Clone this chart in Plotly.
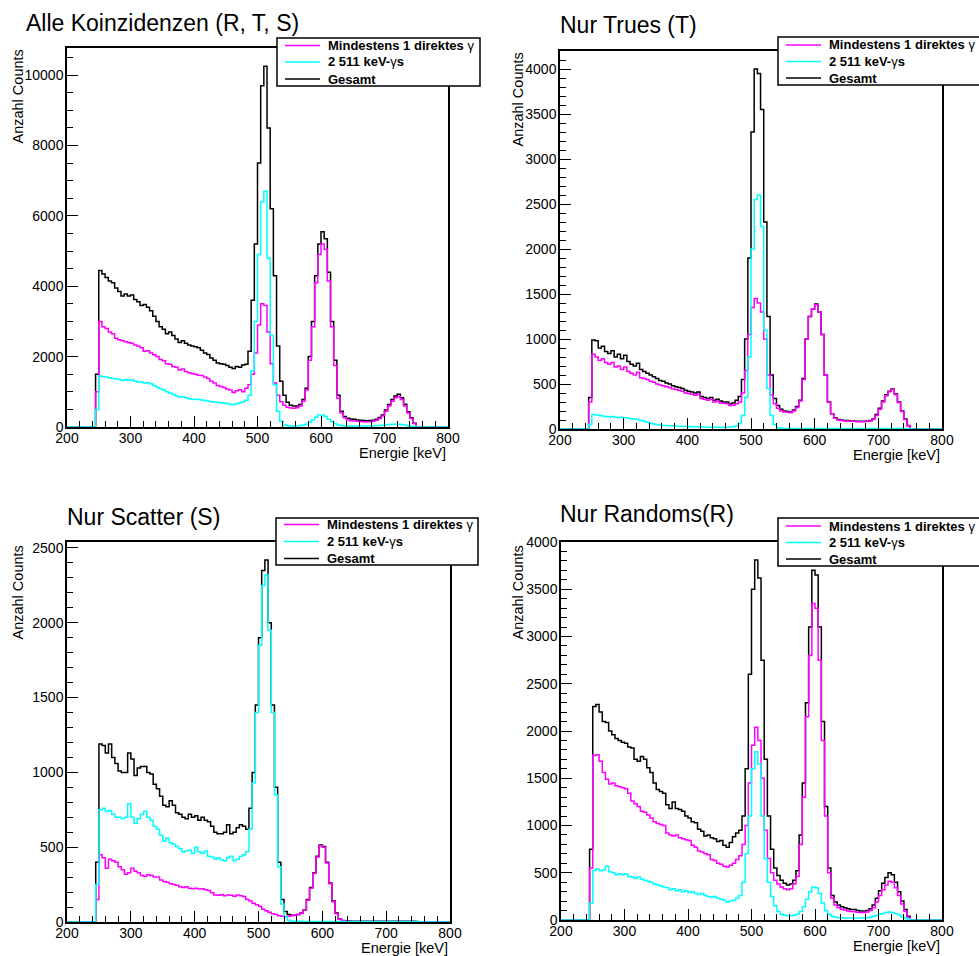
import plotly.graph_objects as go

# ---------------- data (5 keV bins, first bin starts at 245 keV) ----------------
BIN_LO = 245
BIN_W = 5
X_MIN, X_MAX = 200, 800

TITLES = ["Alle Koinzidenzen (R, T, S)", "Nur Trues (T)", "Nur Scatter (S)", "Nur Randoms(R)"]
SERIES_NAMES = ["Mindestens 1 direktes γ", "2 511 keV-γs", "Gesamt"]
LEGEND_LABELS = ["<b>Mindestens 1 direktes </b>γ", "<b>2 511 keV-</b>γ<b>s</b>", "<b>Gesamt</b>"]
X_LABEL = "Energie [keV]"
Y_LABEL = "Anzahl Counts"

# Panel 1: Alle Koinzidenzen
P1_TOTAL = [1500, 4450, 4350, 4250, 4150, 4100, 3950, 3850, 3720, 3780,
            3720, 3750, 3620, 3560, 3450, 3480, 3400, 3300, 3150, 3000,
            2850, 2780, 2650, 2700, 2600, 2500, 2400, 2450, 2380, 2330,
            2300, 2280, 2250, 2180, 2100, 2060, 1960, 1900, 1820, 1800,
            1780, 1750, 1700, 1660, 1720, 1700, 1760, 1780, 2150, 3600,
            5200, 7500, 9700, 10250, 8500, 6200, 4300, 2300, 1300, 900,
            700, 620, 600, 600, 640, 780, 1100, 2000, 3000, 4300,
            5200, 5550, 5350, 4400, 3000, 1900, 900, 450, 300, 250,
            230, 220, 200, 195, 185, 180, 185, 190, 220, 270,
            340, 480, 640, 780, 880, 930, 830, 650, 430, 260,
            110, 0]
P1_DIRECT = [1000, 3000, 2850, 2800, 2700, 2650, 2520, 2480, 2450, 2420,
             2400, 2380, 2330, 2300, 2250, 2150, 2170, 2100, 2050, 2000,
             1920, 1880, 1800, 1780, 1720, 1700, 1620, 1650, 1580, 1540,
             1520, 1500, 1470, 1460, 1420, 1380, 1300, 1250, 1180, 1150,
             1120, 1080, 1050, 980, 1030, 1060, 1000, 1100, 1200, 1500,
             2100, 2900, 3500, 3450, 2700, 1800, 1250, 900, 720, 620,
             560, 540, 530, 550, 600, 730, 1050, 1900, 2850, 4100,
             4900, 5200, 5050, 4150, 2850, 1750, 820, 400, 260, 200,
             180, 170, 160, 155, 150, 150, 150, 160, 190, 240,
             310, 450, 600, 730, 830, 870, 780, 600, 400, 240,
             100, 0]
P1_TWO511 = [500, 1450, 1430, 1420, 1400, 1380, 1370, 1350, 1320, 1350,
             1330, 1340, 1300, 1270, 1280, 1250, 1260, 1230, 1180, 1130,
             1090, 1050, 1000, 960, 930, 890, 850, 860, 830, 800,
             790, 780, 790, 770, 750, 740, 720, 710, 700, 690,
             680, 670, 650, 640, 660, 690, 720, 760, 900, 1600,
             3000, 4900, 6400, 6700, 4800, 2600, 1200, 450, 160, 60,
             40, 30, 30, 30, 40, 55, 80, 130, 200, 280,
             340, 340, 300, 220, 150, 90, 60, 40, 30, 25,
             25, 25, 25, 25, 25, 30, 30, 35, 40, 45,
             50, 60, 70, 75, 80, 80, 70, 55, 35, 20,
             10, 0]

# Panel 2: Nur Trues
P2_TOTAL = [350, 990, 980, 900, 920, 860, 840, 870, 800, 830,
            780, 820, 750, 720, 700, 730, 660, 640, 620, 600,
            580, 560, 540, 530, 510, 500, 480, 470, 460, 450,
            430, 420, 410, 400, 410, 360, 350, 340, 350, 320,
            330, 310, 300, 300, 280, 290, 320, 360, 550, 1000,
            1900, 3300, 4000, 3950, 3550, 2300, 1250, 600, 340, 260,
            220, 200, 195, 190, 210, 250, 320, 560, 1000, 1250,
            1330, 1390, 1300, 1050, 600, 300, 170, 125, 105, 100,
            95, 95, 90, 90, 85, 85, 85, 90, 95, 115,
            160, 230, 310, 380, 420, 445, 390, 300, 200, 110,
            40, 0]
P2_DIRECT = [300, 830, 800, 760, 780, 740, 720, 740, 690, 700,
             660, 690, 640, 620, 600, 630, 570, 560, 550, 530,
             520, 500, 490, 480, 470, 460, 445, 440, 430, 420,
             400, 395, 385, 375, 390, 340, 330, 320, 330, 300,
             310, 290, 285, 280, 260, 265, 280, 300, 400, 650,
             1050, 1350, 1450, 1400, 1300, 1000, 600, 380, 280, 230,
             200, 190, 185, 180, 200, 240, 310, 550, 1000, 1250,
             1330, 1380, 1300, 1050, 600, 300, 170, 120, 100, 95,
             90, 90, 85, 85, 80, 80, 80, 85, 90, 110,
             150, 220, 300, 370, 415, 440, 380, 295, 195, 105,
             35, 0]
P2_TWO511 = [50, 160, 155, 150, 145, 140, 135, 140, 130, 125,
             130, 125, 120, 115, 110, 105, 95, 85, 75, 65,
             55, 50, 45, 40, 40, 35, 35, 30, 30, 30,
             28, 27, 26, 25, 25, 22, 22, 20, 20, 20,
             20, 20, 20, 20, 22, 25, 35, 60, 150, 350,
             800, 2000, 2550, 2600, 2250, 1100, 450, 150, 50, 15,
             8, 5, 5, 5, 5, 5, 5, 5, 5, 5,
             5, 5, 5, 5, 5, 5, 5, 5, 5, 5,
             5, 5, 5, 5, 5, 5, 5, 5, 5, 5,
             5, 5, 5, 5, 5, 5, 5, 5, 5, 5,
             3, 0]

# Panel 3: Nur Scatter
P3_TOTAL = [400, 1190, 1180, 1130, 1190, 1100, 1060, 1010, 1000, 1000,
            1130, 1090, 980, 1030, 1040, 1040, 1000, 990, 920, 890,
            840, 780, 770, 810, 780, 730, 720, 700, 690, 720,
            700, 710, 680, 700, 680, 670, 640, 600, 590, 590,
            600, 650, 590, 600, 630, 650, 640, 620, 760, 1000,
            1450, 1900, 2350, 2420, 2000, 1450, 900, 400, 150, 70,
            50, 45, 45, 50, 60, 80, 150, 230, 330, 440,
            515, 505, 400, 260, 140, 60, 20, 10, 8, 6,
            5, 5, 5, 5, 5, 5, 5, 5, 5, 5,
            5, 5, 5, 5, 5, 5, 5, 5, 5, 5,
            4, 0]
P3_DIRECT = [150, 450, 430, 360, 420, 410, 400, 370, 350, 320,
             330, 360, 340, 330, 310, 305, 315, 310, 300, 300,
             280, 270, 265, 255, 250, 245, 235, 230, 235, 225,
             222, 225, 220, 222, 215, 210, 195, 180, 178, 182,
             175, 180, 178, 172, 180, 176, 170, 150, 140, 125,
             115, 105, 85, 75, 65, 55, 50, 42, 38, 36,
             38, 42, 45, 50, 60, 80, 145, 225, 325, 435,
             510, 500, 395, 255, 135, 55, 18, 8, 5, 4,
             3, 3, 3, 3, 3, 3, 3, 3, 3, 3,
             3, 3, 3, 3, 3, 3, 3, 3, 3, 3,
             2, 0]
P3_TWO511 = [250, 750, 760, 740, 745, 720, 700, 700, 690, 700,
             790, 700, 660, 690, 720, 740, 700, 680, 640, 620,
             580, 540, 560, 530, 520, 505, 490, 470, 475, 480,
             460, 500, 470, 460, 475, 440, 435, 420, 430, 415,
             410, 430, 440, 410, 420, 440, 450, 470, 620, 930,
             1400, 1850, 2250, 2320, 1950, 1400, 850, 370, 120, 35,
             12, 6, 5, 5, 5, 4, 4, 4, 4, 4,
             4, 4, 4, 4, 4, 4, 4, 4, 4, 4,
             4, 4, 4, 4, 4, 4, 4, 4, 4, 4,
             4, 4, 4, 4, 4, 4, 4, 4, 4, 4,
             3, 0]

# Panel 4: Nur Randoms
P4_TOTAL = [750, 2260, 2280, 2200, 2100, 2090, 2000, 1960, 1920, 1900,
            1880, 1870, 1830, 1820, 1700, 1680, 1730, 1700, 1610, 1560,
            1450, 1380, 1360, 1340, 1220, 1180, 1250, 1180, 1170, 1150,
            1100, 1080, 1040, 1030, 960, 940, 890, 900, 870, 860,
            830, 840, 790, 770, 820, 880, 920, 950, 1100, 1600,
            2600, 3500, 3810, 3620, 2750, 1700, 1100, 750, 550, 470,
            420, 390, 370, 380, 420, 520, 900, 1450, 2300, 3100,
            3700, 3650, 3100, 2100, 1200, 550, 260, 190, 160, 140,
            130, 120, 110, 110, 100, 95, 95, 100, 120, 160,
            230, 310, 390, 450, 500, 480, 400, 300, 200, 110,
            40, 0]
P4_DIRECT = [550, 1740, 1750, 1680, 1560, 1490, 1440, 1450, 1420, 1410,
             1400, 1390, 1340, 1260, 1230, 1200, 1150, 1140, 1110, 1080,
             1040, 1020, 1010, 1000, 920, 900, 890, 900, 870, 860,
             850, 840, 790, 770, 730, 720, 700, 690, 640, 630,
             600, 590, 570, 560, 580, 600, 640, 680, 800, 1000,
             1450, 1850, 2040, 1900, 1500, 950, 650, 500, 420, 380,
             350, 330, 320, 330, 380, 460, 800, 1300, 2150, 2800,
             3350, 3300, 2750, 1900, 1100, 500, 230, 160, 130, 115,
             105, 95, 90, 88, 82, 80, 80, 85, 100, 130,
             190, 260, 320, 370, 410, 400, 340, 260, 170, 90,
             30, 0]
P4_TWO511 = [180, 525, 540, 520, 530, 570, 510, 500, 480, 490,
             480, 490, 460, 455, 440, 455, 430, 420, 410, 400,
             380, 370, 360, 350, 340, 320, 330, 310, 320, 300,
             310, 290, 300, 280, 270, 280, 260, 250, 240, 250,
             230, 220, 210, 190, 200, 210, 230, 260, 400, 700,
             1100, 1600, 1780, 1650, 1100, 650, 400, 250, 150, 90,
             60, 50, 45, 45, 50, 60, 90, 140, 220, 300,
             350, 340, 280, 180, 100, 60, 40, 30, 25, 25,
             22, 22, 20, 20, 20, 20, 20, 25, 30, 40,
             50, 60, 70, 80, 85, 80, 70, 55, 35, 20,
             10, 0]

PANELS = [
    (P1_DIRECT, P1_TWO511, P1_TOTAL),
    (P2_DIRECT, P2_TWO511, P2_TOTAL),
    (P3_DIRECT, P3_TWO511, P3_TOTAL),
    (P4_DIRECT, P4_TWO511, P4_TOTAL),
]
Y_MAX = [10770, 4200, 2540, 4000]
Y_MAJOR = [2000, 500, 500, 500]
Y_MINOR = [500, 100, 100, 100]

# ---------------- layout geometry (pixels) ----------------
W, H = 979, 956
FONT = "Liberation Sans, Arial, Helvetica, sans-serif"
COLORS = ["#ff00ff", "#00ffff", "#000000"]   # direct, 2x511, total

# frame: left, right, top, bottom
FRAMES = [(67, 448, 48, 427), (560, 942, 51, 429), (67, 450, 542, 922), (561, 942, 542, 920)]
TITLE_POS = [(24, 23), (558, 25), (65, 516.5), (558, 513.5)]
LEG_BOX = [(277, 480, 38, 86), (778, 990, 37, 85), (276, 478, 518, 565), (778, 990, 518, 566)]
LEG_ROWS = [(45.5, 62, 79), (45, 61.5, 78), (524.5, 541.5, 558.5), (526, 542.5, 559)]
YLAB_POS = [(17.5, 97), (517.5, 100), (17.5, 593), (517.5, 593)]


def fx(x):
    return x / W


def fy(y):
    return 1 - y / H


def step_xy(vals):
    n = len(vals)
    edges = [BIN_LO + i * BIN_W for i in range(n + 1)]
    xs = [X_MIN] + edges[:-1] + [edges[-1], X_MAX]
    ys = [0] + list(vals) + [0, 0]
    return xs, ys


fig = go.Figure()
shapes = []
annotations = []
layout_axes = {}

for k, (direct, two511, total) in enumerate(PANELS):
    sfx = "" if k == 0 else str(k + 1)
    xa, ya = "x" + sfx, "y" + sfx
    # draw order: total first, then direct, then 2x511
    for vals, col, name in [(total, COLORS[2], SERIES_NAMES[2]),
                            (direct, COLORS[0], SERIES_NAMES[0]),
                            (two511, COLORS[1], SERIES_NAMES[1])]:
        xs, ys = step_xy(vals)
        fig.add_trace(go.Scatter(x=xs, y=ys, mode="lines", line=dict(color=col, width=1.5, shape="hv"),
                                 name=name, showlegend=False, xaxis=xa, yaxis=ya, hoverinfo="skip"))

    l, r, t, b = FRAMES[k]
    common = dict(showline=True, linecolor="black", linewidth=1.5, mirror=True, showgrid=False,
                  zeroline=False, ticks="inside", tickcolor="black", tickwidth=1, automargin=False,
                  tickformat="d", tickfont=dict(family=FONT, size=14, color="black"))
    layout_axes["xaxis" + sfx] = dict(common, domain=[fx(l), fx(r)], range=[X_MIN, X_MAX], anchor=ya,
                                      tick0=0, dtick=100, ticklen=11, ticklabelstandoff=-3,
                                      minor=dict(ticks="inside", ticklen=6, dtick=20, tick0=0,
                                                 tickcolor="black", tickwidth=1, showgrid=False))
    layout_axes["yaxis" + sfx] = dict(common, domain=[fy(b), fy(t)], range=[0, Y_MAX[k]], anchor=xa,
                                      tick0=0, dtick=Y_MAJOR[k], ticklen=11, ticklabelstandoff=-1,
                                      minor=dict(ticks="inside", ticklen=6, dtick=Y_MINOR[k], tick0=0,
                                                 tickcolor="black", tickwidth=1, showgrid=False))

    # title
    tx, ty = TITLE_POS[k]
    annotations.append(dict(text=TITLES[k], x=fx(tx), y=fy(ty), xref="paper", yref="paper",
                            xanchor="left", yanchor="middle", showarrow=False,
                            font=dict(family=FONT, size=23, color="black")))
    # x label
    annotations.append(dict(text=X_LABEL, x=fx(r), y=fy(b + 26), xref="paper", yref="paper",
                            xanchor="right", yanchor="middle", showarrow=False,
                            font=dict(family=FONT, size=14.5, color="black")))
    # y label
    lx, ly = YLAB_POS[k]
    annotations.append(dict(text=Y_LABEL, x=fx(lx), y=fy(ly), xref="paper", yref="paper",
                            xanchor="center", yanchor="middle", showarrow=False, textangle=-90,
                            font=dict(family=FONT, size=14.5, color="black")))

    # legend box
    bx0, bx1, by0, by1 = LEG_BOX[k]
    shapes.append(dict(type="rect", xref="paper", yref="paper", x0=fx(bx0), x1=fx(bx1),
                       y0=fy(by1), y1=fy(by0), line=dict(color="black", width=1.5),
                       fillcolor="white", layer="above"))
    for j, row in enumerate(LEG_ROWS[k]):
        shapes.append(dict(type="line", xref="paper", yref="paper", x0=fx(bx0 + 8), x1=fx(bx0 + 43),
                           y0=fy(row), y1=fy(row), line=dict(color=COLORS[j], width=1.5), layer="above"))
        annotations.append(dict(text=LEGEND_LABELS[j], x=fx(bx0 + 49), y=fy(row), xref="paper", yref="paper",
                                xanchor="left", yanchor="middle", showarrow=False,
                                font=dict(family=FONT, size=13, color="black")))

fig.update_layout(template="none", width=W, height=H, margin=dict(l=0, r=0, t=0, b=0, pad=0),
                  paper_bgcolor="white", plot_bgcolor="white", showlegend=False,
                  shapes=shapes, annotations=annotations, **layout_axes)

fig.write_html("out.html")
